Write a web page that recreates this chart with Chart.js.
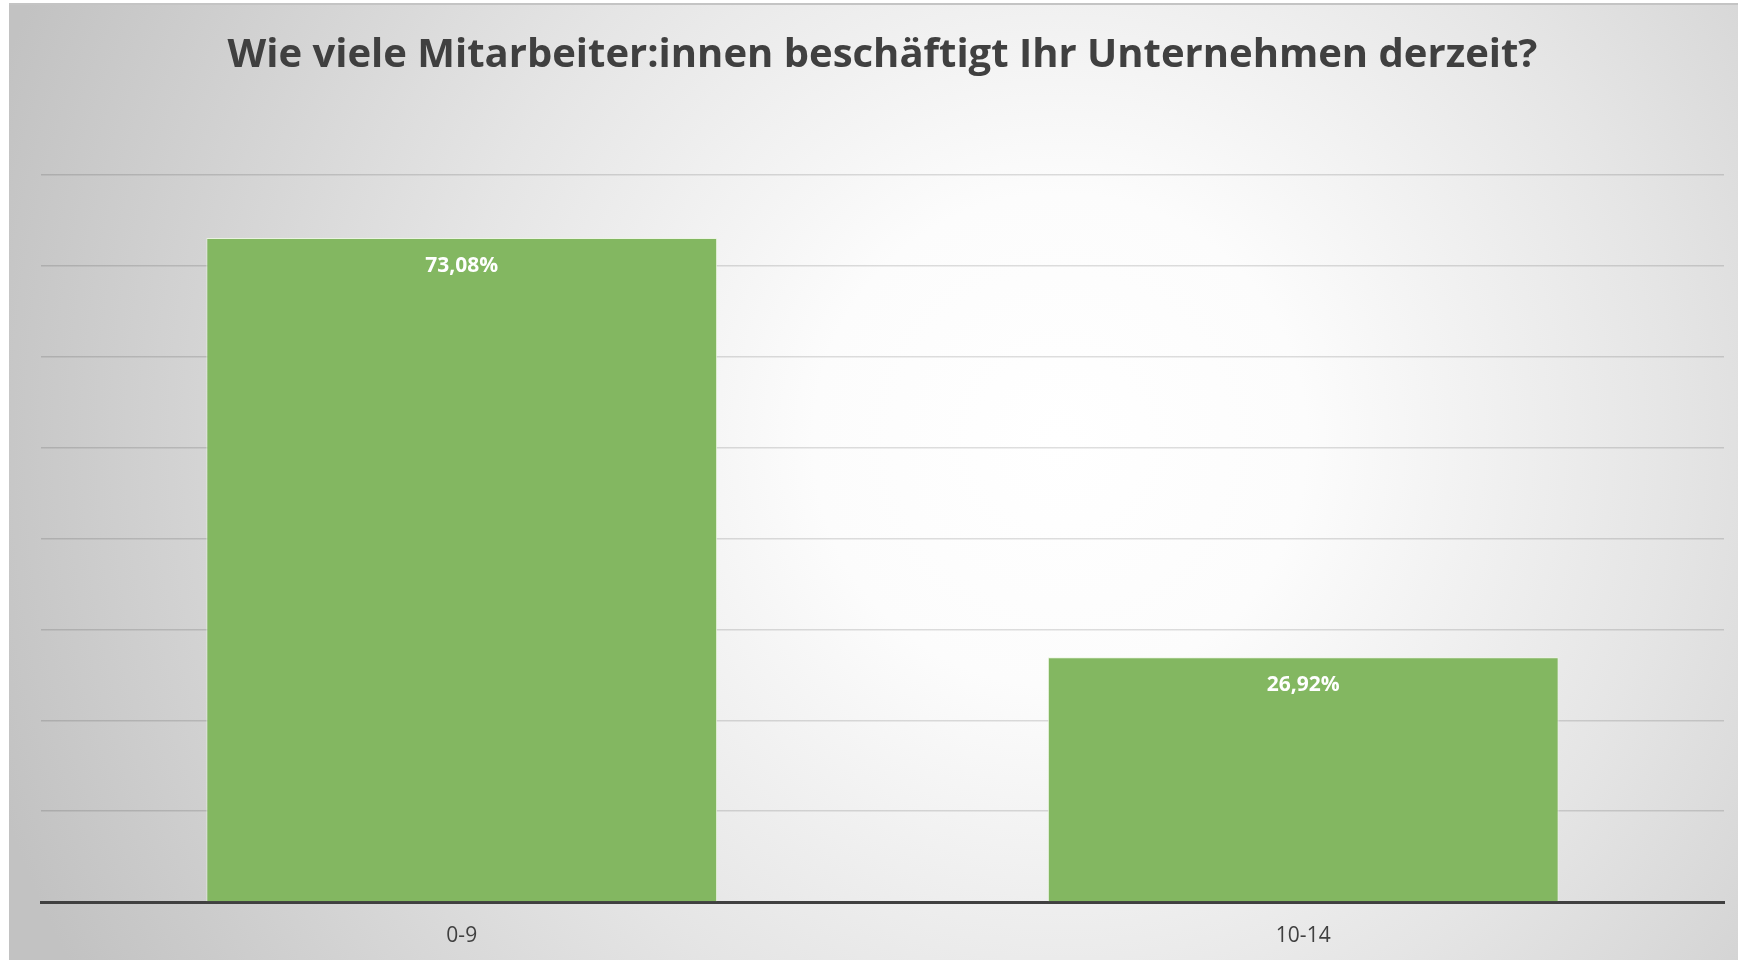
<!DOCTYPE html>
<html>
<head>
<meta charset="utf-8">
<script src="https://cdn.jsdelivr.net/npm/chart.js@4.4.1/dist/chart.umd.min.js"></script>
<style>
html,body{margin:0;padding:0;background:#fff;}
#wrap{width:1738px;height:960px;position:relative;}
canvas{display:block;}
</style>
</head>
<body>
<div id="wrap"><canvas id="c" width="1738" height="960"></canvas></div>
<script>
const titleText = "Wie viele Mitarbeiter:innen beschäftigt Ihr Unternehmen derzeit?";
const categories = ["0-9", "10-14"];
const shareValues = [73.08, 26.92];
const yMin = 0, yMax = 80, yStep = 10;

const bgPlugin = {
  id: 'bg',
  beforeDraw(chart) {
    const ctx = chart.ctx;
    const W = chart.width, H = chart.height;
    ctx.save();
    ctx.fillStyle = '#ffffff';
    ctx.fillRect(0, 0, W, H);
    const x0 = 9, y0 = 4;
    const g = ctx.createRadialGradient(1060, 440, 0, 1060, 440, 1120);
    g.addColorStop(0, '#ffffff');
    g.addColorStop(0.22, '#fcfcfc');
    g.addColorStop(0.55, '#e5e5e5');
    g.addColorStop(1, '#c2c2c2');
    ctx.fillStyle = g;
    ctx.fillRect(x0, y0, W - x0, H - y0);
    ctx.fillStyle = '#c4c4c4';
    ctx.fillRect(x0, y0 - 1, W - x0, 2);
    ctx.restore();
  }
};

const labelPlugin = {
  id: 'barLabels',
  afterDatasetsDraw(chart) {
    const ctx = chart.ctx;
    const meta = chart.getDatasetMeta(0);
    ctx.save();
    ctx.fillStyle = '#ffffff';
    ctx.font = 'bold 21px "Open Sans", sans-serif';
    ctx.textAlign = 'center';
    ctx.textBaseline = 'middle';
    meta.data.forEach((bar, i) => {
      const v = chart.data.datasets[0].data[i];
      const txt = v.toFixed(2).replace('.', ',') + '%';
      ctx.fillText(txt, bar.x, bar.y + 28);
    });
    ctx.restore();
  }
};

new Chart(document.getElementById('c'), {
  type: 'bar',
  data: {
    labels: categories,
    datasets: [{
      data: shareValues,
      backgroundColor: '#83b761',
      borderColor: 'rgba(235,245,225,0.9)',
      borderWidth: 1,
      categoryPercentage: 1.0,
      barPercentage: 0.607
    }]
  },
  options: {
    responsive: false,
    animation: false,
    devicePixelRatio: 1,
    layout: { padding: { left: 41, right: 14, top: 0, bottom: -11 } },
    plugins: {
      legend: { display: false },
      tooltip: { enabled: false },
      title: {
        display: true,
        text: titleText,
        color: '#404040',
        font: { family: '"Open Sans", sans-serif', size: 40, weight: 'bold', lineHeight: 1.2 },
        padding: { top: 32, bottom: 95 }
      }
    },
    scales: {
      x: {
        grid: { display: false, drawTicks: false },
        border: { display: true, color: '#404040', width: 3 },
        ticks: { color: '#404040', font: { family: '"Open Sans", sans-serif', size: 21, lineHeight: 1.0 }, padding: 24 }
      },
      y: {
        min: yMin, max: yMax,
        ticks: { display: false, stepSize: yStep },
        grid: { color: 'rgba(0,0,0,0.13)', lineWidth: 1.5, drawTicks: false },
        border: { display: false }
      }
    }
  },
  plugins: [bgPlugin, labelPlugin]
});
</script>
</body>
</html>
